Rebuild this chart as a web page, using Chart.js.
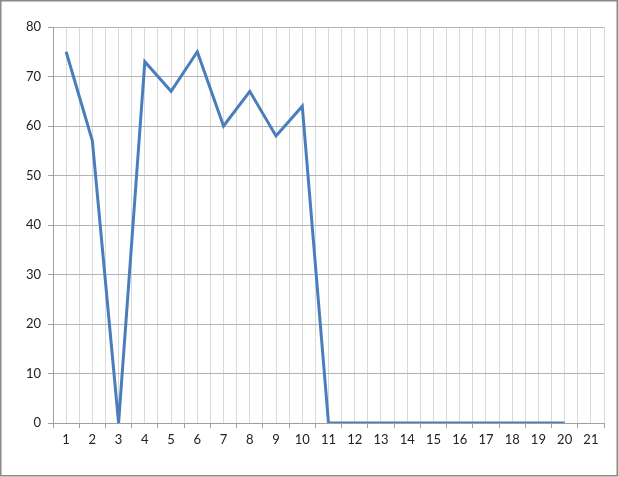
<!DOCTYPE html>
<html>
<head>
<meta charset="utf-8">
<script src="https://cdn.jsdelivr.net/npm/chart.js@4/dist/chart.umd.min.js"></script>
<style>
  html, body { margin: 0; padding: 0; background: #fff; }
  #wrap { width: 618px; height: 477px; position: relative; }
</style>
</head>
<body>
<div id="wrap"><canvas id="c" width="618" height="477"></canvas></div>
<script>
const categories = [1,2,3,4,5,6,7,8,9,10,11,12,13,14,15,16,17,18,19,20,21];
const values = [75,57,0,73,67,75,60,67,58,64,0,0,0,0,0,0,0,0,0,0,null];
const yTicks = [0,10,20,30,40,50,60,70,80];

const points = categories.map((c, i) => ({x: c, y: values[i]}));

const frame = {
  id: 'frame',
  afterDraw(chart) {
    const ctx = chart.ctx;
    ctx.save();
    ctx.strokeStyle = '#8a8a8a';
    ctx.lineWidth = 1.5;
    ctx.strokeRect(0.75, 0.75, 616.5, 475);
    ctx.restore();
  }
};

const FONT = { family: 'Lato, "Liberation Sans", sans-serif', size: 13 };

new Chart(document.getElementById('c'), {
  type: 'line',
  data: {
    datasets: [{
      data: points,
      borderColor: '#4a7ebb',
      borderWidth: 3,
      pointRadius: 0,
      pointHoverRadius: 0,
      tension: 0,
      fill: false,
      spanGaps: false
    }]
  },
  options: {
    responsive: false,
    animation: false,
    events: [],
    layout: { padding: { top: 27, right: 14, left: 0, bottom: 0 } },
    plugins: { legend: { display: false }, tooltip: { enabled: false } },
    scales: {
      x: {
        type: 'linear',
        min: categories[0] - 0.5,
        max: categories[categories.length - 1] + 0.5,
        afterBuildTicks(scale) {
          const t = [];
          for (let i = 0; i <= categories.length * 2; i++) t.push({ value: categories[0] - 0.5 + i * 0.5 });
          scale.ticks = t;
        },
        afterFit(scale) { scale.height = 54; },
        border: { display: true, color: '#a0a0a0', width: 1 },
        grid: {
          color: '#d9d9d9',
          lineWidth: 1,
          drawTicks: true,
          tickLength: 5,
          tickColor: (ctx) => (ctx.tick && ctx.tick.value % 1 !== 0) ? '#a0a0a0' : 'rgba(0,0,0,0)'
        },
        ticks: {
          autoSkip: false,
          maxRotation: 0,
          minRotation: 0,
          padding: 4,
          color: '#222',
          font: FONT,
          callback: (v) => (v % 1 === 0 ? String(v) : '')
        }
      },
      y: {
        min: yTicks[0],
        max: yTicks[yTicks.length - 1],
        afterBuildTicks(scale) { scale.ticks = yTicks.map(v => ({ value: v })); },
        afterFit(scale) { scale.width = 53; },
        border: { display: true, color: '#a0a0a0', width: 1 },
        grid: {
          color: '#b3b3b3',
          lineWidth: 1,
          tickLength: 5,
          tickColor: '#a0a0a0'
        },
        ticks: {
          padding: 7,
          color: '#222',
          font: FONT
        }
      }
    }
  },
  plugins: [frame]
});
</script>
</body>
</html>
